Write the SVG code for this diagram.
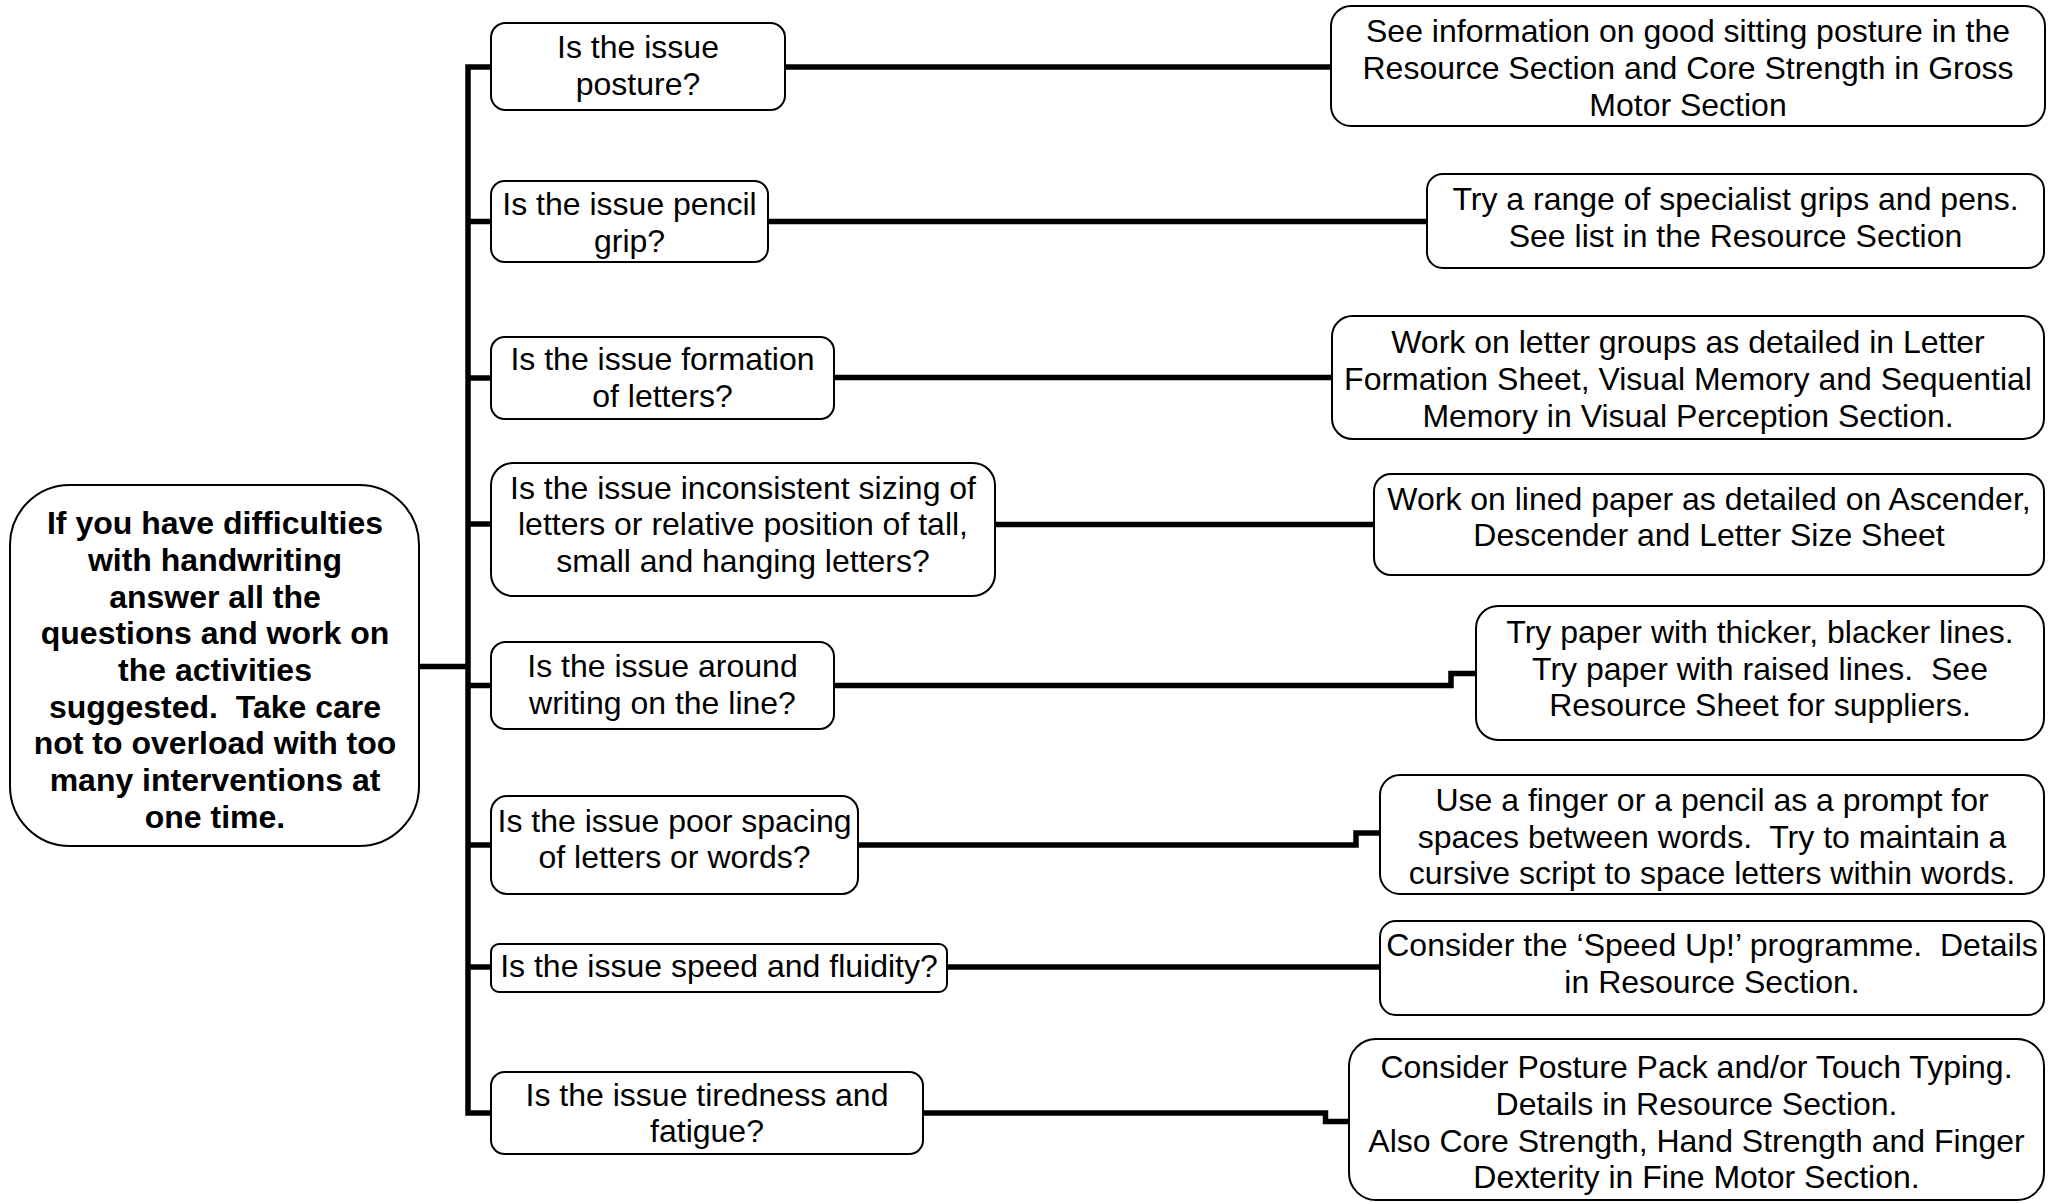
<svg xmlns="http://www.w3.org/2000/svg" width="2056" height="1203" viewBox="0 0 2056 1203">
<style>
.box{fill:#fff;stroke:#000;stroke-width:2}
.t{font-family:"Liberation Sans",Arial,sans-serif;font-size:32px;fill:#000;text-anchor:middle;white-space:pre}
.b{font-weight:bold}
.c{fill:none;stroke:#000;stroke-width:5.5;stroke-linejoin:miter}
</style>
<rect width="2056" height="1203" fill="#fff"/>
<g id="connectors">
<path class="c" d="M420,666.5 H468"/>
<path class="c" d="M491,67 H468 V1113 H491"/>
<path class="c" d="M468,221.5 H491"/>
<path class="c" d="M468,378 H491"/>
<path class="c" d="M468,524 H491"/>
<path class="c" d="M468,685.5 H491"/>
<path class="c" d="M468,845 H491"/>
<path class="c" d="M468,967 H491"/>
<path class="c" d="M785,67 H1331"/>
<path class="c" d="M768,221.5 H1427"/>
<path class="c" d="M834,377.5 H1332"/>
<path class="c" d="M995,524.5 H1374"/>
<path class="c" d="M834,685.5 H1451 V673.5 H1476"/>
<path class="c" d="M858,845 H1356 V833 H1380"/>
<path class="c" d="M947,967 H1380"/>
<path class="c" d="M923,1113 H1325.5 V1121.5 H1349"/>
</g>
<g id="root">
<rect class="box" x="10" y="485" width="409" height="361" rx="60"/>
<text class="t b" xml:space="preserve"><tspan x="215" y="533.5">If you have difficulties</tspan><tspan x="215" y="570.5">with handwriting</tspan><tspan x="215" y="607.5">answer all the</tspan><tspan x="215" y="643.5">questions and work on</tspan><tspan x="215" y="680.5">the activities</tspan><tspan x="215" y="717.5">suggested.  Take care</tspan><tspan x="215" y="753.5">not to overload with too</tspan><tspan x="215" y="790.5">many interventions at</tspan><tspan x="215" y="827.5">one time.</tspan></text>
</g>
<g id="q1">
<rect class="box" x="491" y="23" width="294" height="87" rx="14.5"/>
<text class="t"><tspan x="638" y="57.5">Is the issue</tspan><tspan x="638" y="94.5">posture?</tspan></text>
</g>
<g id="q2">
<rect class="box" x="491" y="181" width="277" height="81" rx="13.5"/>
<text class="t"><tspan x="629.5" y="215">Is the issue pencil</tspan><tspan x="629.5" y="251.5">grip?</tspan></text>
</g>
<g id="q3">
<rect class="box" x="491" y="337" width="343" height="82" rx="13.7"/>
<text class="t"><tspan x="662.5" y="369.5">Is the issue formation</tspan><tspan x="662.5" y="406.5">of letters?</tspan></text>
</g>
<g id="q4">
<rect class="box" x="491" y="463" width="504" height="133" rx="22"/>
<text class="t"><tspan x="743" y="498.5">Is the issue inconsistent sizing of</tspan><tspan x="743" y="535">letters or relative position of tall,</tspan><tspan x="743" y="571.5">small and hanging letters?</tspan></text>
</g>
<g id="q5">
<rect class="box" x="491" y="642" width="343" height="87" rx="14.5"/>
<text class="t"><tspan x="662.5" y="676.5">Is the issue around</tspan><tspan x="662.5" y="713.5">writing on the line?</tspan></text>
</g>
<g id="q6">
<rect class="box" x="491" y="796" width="367" height="98" rx="16"/>
<text class="t"><tspan x="674.5" y="831.5">Is the issue poor spacing</tspan><tspan x="674.5" y="868">of letters or words?</tspan></text>
</g>
<g id="q7">
<rect class="box" x="491" y="944" width="456" height="48" rx="8"/>
<text class="t"><tspan x="719" y="976.5">Is the issue speed and fluidity?</tspan></text>
</g>
<g id="q8">
<rect class="box" x="491" y="1072" width="432" height="82" rx="13.7"/>
<text class="t"><tspan x="707" y="1105.5">Is the issue tiredness and</tspan><tspan x="707" y="1142">fatigue?</tspan></text>
</g>
<g id="a1">
<rect class="box" x="1331" y="6" width="714" height="120" rx="20"/>
<text class="t"><tspan x="1688" y="42">See information on good sitting posture in the</tspan><tspan x="1688" y="78.5">Resource Section and Core Strength in Gross</tspan><tspan x="1688" y="115.5">Motor Section</tspan></text>
</g>
<g id="a2">
<rect class="box" x="1427" y="174" width="617" height="94" rx="15.7"/>
<text class="t"><tspan x="1735.5" y="209.5">Try a range of specialist grips and pens.</tspan><tspan x="1735.5" y="246.5">See list in the Resource Section</tspan></text>
</g>
<g id="a3">
<rect class="box" x="1332" y="316" width="712" height="123" rx="20.5"/>
<text class="t"><tspan x="1688" y="352.5">Work on letter groups as detailed in Letter</tspan><tspan x="1688" y="389.5">Formation Sheet, Visual Memory and Sequential</tspan><tspan x="1688" y="426.5">Memory in Visual Perception Section.</tspan></text>
</g>
<g id="a4">
<rect class="box" x="1374" y="474" width="670" height="101" rx="17"/>
<text class="t"><tspan x="1709" y="510">Work on lined paper as detailed on Ascender,</tspan><tspan x="1709" y="545.5">Descender and Letter Size Sheet</tspan></text>
</g>
<g id="a5">
<rect class="box" x="1476" y="606" width="568" height="134" rx="22"/>
<text class="t" xml:space="preserve"><tspan x="1760" y="642.5">Try paper with thicker, blacker lines.</tspan><tspan x="1760" y="679.5">Try paper with raised lines.  See</tspan><tspan x="1760" y="715.5">Resource Sheet for suppliers.</tspan></text>
</g>
<g id="a6">
<rect class="box" x="1380" y="775" width="664" height="119" rx="20"/>
<text class="t" xml:space="preserve"><tspan x="1712" y="810.5">Use a finger or a pencil as a prompt for</tspan><tspan x="1712" y="847.5">spaces between words.  Try to maintain a</tspan><tspan x="1712" y="883.5">cursive script to space letters within words.</tspan></text>
</g>
<g id="a7">
<rect class="box" x="1380" y="921" width="664" height="94" rx="15.7"/>
<text class="t" xml:space="preserve"><tspan x="1712" y="955.5">Consider the ‘Speed Up!’ programme.  Details</tspan><tspan x="1712" y="992.5">in Resource Section.</tspan></text>
</g>
<g id="a8">
<rect class="box" x="1349" y="1039" width="695" height="161" rx="27"/>
<text class="t"><tspan x="1696.5" y="1077.5">Consider Posture Pack and/or Touch Typing.</tspan><tspan x="1696.5" y="1114.5">Details in Resource Section.</tspan><tspan x="1696.5" y="1151.5">Also Core Strength, Hand Strength and Finger</tspan><tspan x="1696.5" y="1188">Dexterity in Fine Motor Section.</tspan></text>
</g>
</svg>
